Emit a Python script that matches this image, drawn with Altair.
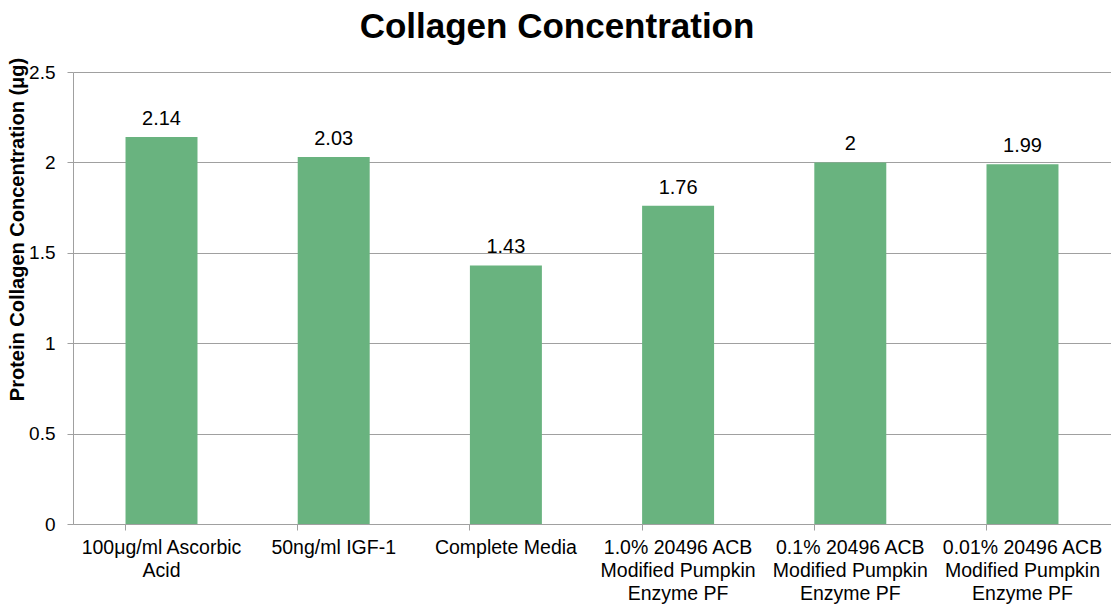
import altair as alt
import pandas as pd

categories = [
    "100μg/ml Ascorbic\nAcid",
    "50ng/ml IGF-1",
    "Complete Media",
    "1.0% 20496 ACB\nModified Pumpkin\nEnzyme PF",
    "0.1% 20496 ACB\nModified Pumpkin\nEnzyme PF",
    "0.01% 20496 ACB\nModified Pumpkin\nEnzyme PF",
]
values = [2.14, 2.03, 1.43, 1.76, 2.0, 1.99]
value_labels = ["2.14", "2.03", "1.43", "1.76", "2", "1.99"]
y_ticks = [0, 0.5, 1, 1.5, 2, 2.5]

df = pd.DataFrame({"cat": categories, "val": values, "lab": value_labels})

FONT = "Liberation Sans"
GRID = "#a0a0a0"

x = alt.X(
    "cat:N",
    sort=categories,
    scale=alt.Scale(paddingInner=0.582, paddingOuter=0.305),
    axis=alt.Axis(
        title=None,
        labelAngle=0,
        labelExpr="split(datum.label, '\\n')",
        labelFont=FONT,
        labelFontSize=19.5,
        labelColor="#000000",
        labelLineHeight=23,
        labelPadding=8,
        labelLimit=400,
        bandPosition=0,
        tickSize=6,
        tickColor=GRID,
        domainColor=GRID,
        grid=False,
    ),
)

y = alt.Y(
    "val:Q",
    scale=alt.Scale(domain=[0, 2.5], nice=False),
    axis=alt.Axis(
        title="Protein Collagen Concentration (μg)",
        titleFont=FONT,
        titleFontSize=20,
        titleFontWeight="bold",
        titleColor="#000000",
        titleX=-46,
        titleY=157,
        values=y_ticks,
        labelExpr="datum.value",
        labelFont=FONT,
        labelFontSize=19,
        labelColor="#000000",
        labelPadding=12,
        tickSize=6,
        tickColor=GRID,
        domainColor=GRID,
        gridColor=GRID,
        gridWidth=1,
    ),
)

bars = alt.Chart(df).mark_bar(color="#69b37f").encode(x=x, y=y)
text = alt.Chart(df).mark_text(
    baseline="bottom", dy=-8, font=FONT, fontSize=20, color="#000000"
).encode(x=alt.X("cat:N", sort=categories), y="val:Q", text="lab:N")

chart = (
    alt.layer(bars, text)
    .properties(
        width=1038,
        height=452,
        padding={"left": 65, "top": 64, "right": 0, "bottom": 80},
        autosize=alt.AutoSizeParams(type="none"),
        title=alt.TitleParams(
            "Collagen Concentration",
            font=FONT,
            fontSize=35,
            fontWeight="bold",
            color="#000000",
            offset=12,
            dx=-35,
        ),
    )
    .configure_view(stroke=None)
)

chart.save("out.html", embed_options={"renderer": "svg", "actions": False})
